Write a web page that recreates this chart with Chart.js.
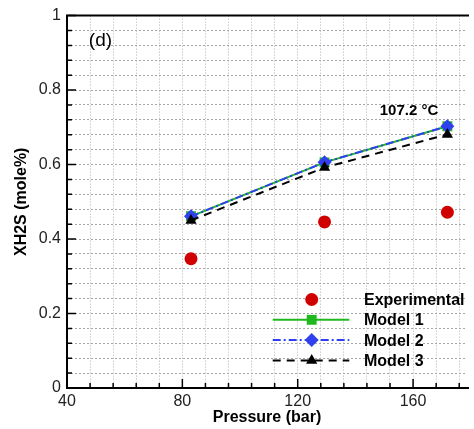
<!DOCTYPE html>
<html>
<head>
<meta charset="utf-8">
<script src="https://cdn.jsdelivr.net/npm/chart.js@4.4.0/dist/chart.umd.min.js"></script>
<style>
  html, body { margin: 0; padding: 0; background: #fff; overflow: hidden; }
  #wrap { width: 474px; height: 429px; position: relative; }
</style>
</head>
<body>
<div id="wrap"><canvas id="xh2s"></canvas></div>
<script>
// pressure (bar) and H2S mole fraction at 107.2 °C
var pressure     = [83.0, 129.3, 171.9];
var experimental = [0.347, 0.446, 0.472];
var model1       = [0.461, 0.606, 0.703];
var model2       = [0.461, 0.606, 0.703];
var model3       = [0.450, 0.592, 0.681];
var seriesNames  = ['Experimental', 'Model 1', 'Model 2', 'Model 3'];

var xTickLabels = [40, 80, 120, 160];
var yTickLabels = [0, 0.2, 0.4, 0.6, 0.8, 1];

var panelLabel = { text: '(d)', x: 51.6, y: 0.933 };
var tempLabel  = { text: '107.2 °C', x: 158.6, y: 0.744 };

var FONT = "'Liberation Sans', Arial, sans-serif";

function toPoints(ys) {
    return pressure.map(function (p, i) { return { x: p, y: ys[i] }; });
}

var styles = [
    { color: '#d10000', style: 'circle',   radius: 6.5, dash: [],           line: false },
    { color: '#1fb81f', style: 'rect',     radius: 7,   dash: [],           line: true },
    { color: '#3040ee', style: 'rectRot',  radius: 7,   dash: [8, 3, 2, 3], line: true },
    { color: '#000000', style: 'triangle', radius: 6.5, dash: [8, 6],       line: true }
];
var values = [experimental, model1, model2, model3];

var datasets = values.map(function (v, i) {
    var s = styles[i];
    return {
        label: seriesNames[i],
        data: toPoints(v),
        showLine: s.line,
        borderColor: s.color,
        backgroundColor: s.color,
        borderWidth: 2,
        borderDash: s.dash,
        pointStyle: s.style,
        pointRadius: s.radius,
        pointBorderWidth: 0,
        pointBackgroundColor: s.color,
        order: i === 0 ? 0 : 5 - i
    };
});

// axes frame, inward ticks, legend box and text labels
var decorations = {
    id: 'decorations',
    afterDraw: function (chart) {
        var ctx = chart.ctx, a = chart.chartArea;
        var xs = chart.scales.x, ys = chart.scales.y;
        ctx.save();
        ctx.strokeStyle = '#000';
        ctx.lineWidth = 2;
        ctx.beginPath();
        ctx.moveTo(a.right + 2, a.top);
        ctx.lineTo(a.left, a.top);
        ctx.lineTo(a.left, a.bottom);
        ctx.lineTo(a.right + 2, a.bottom);
        ctx.stroke();

        ctx.lineWidth = 1.5;
        ctx.beginPath();
        xs.ticks.forEach(function (t) {
            var px = xs.getPixelForValue(t.value);
            var len = xTickLabels.indexOf(t.value) >= 0 ? 9 : 5;
            ctx.moveTo(px, a.bottom);
            ctx.lineTo(px, a.bottom - len);
        });
        ys.ticks.forEach(function (t, i) {
            var py = ys.getPixelForValue(t.value);
            var len = i % 5 === 0 ? 9 : 5;
            ctx.moveTo(a.left, py);
            ctx.lineTo(a.left + len, py);
        });
        ctx.stroke();

        // legend
        var mx = 311.7, x0 = 272.7, x1 = 349.3, tx = 364, top = 299.5, gap = 20.3;
        ctx.textBaseline = 'middle';
        ctx.textAlign = 'left';
        ctx.font = 'bold 16px ' + FONT;
        styles.forEach(function (s, i) {
            var y = top + gap * i;
            if (s.line) {
                ctx.save();
                ctx.strokeStyle = s.color;
                ctx.lineWidth = 2;
                ctx.setLineDash(s.dash);
                ctx.beginPath();
                ctx.moveTo(x0, y);
                ctx.lineTo(x1, y);
                ctx.stroke();
                ctx.restore();
            }
            ctx.fillStyle = s.color;
            ctx.strokeStyle = s.color;
            Chart.helpers.drawPoint(ctx, { pointStyle: s.style, radius: s.radius, rotation: 0, borderWidth: 0 }, mx, y);
            ctx.fillStyle = '#000';
            ctx.fillText(seriesNames[i], tx, y + 1);
        });

        ctx.textAlign = 'center';
        ctx.fillStyle = '#000';
        ctx.font = '19px ' + FONT;
        ctx.fillText(panelLabel.text, xs.getPixelForValue(panelLabel.x), ys.getPixelForValue(panelLabel.y));
        ctx.font = 'bold 15px ' + FONT;
        ctx.fillText(tempLabel.text, xs.getPixelForValue(tempLabel.x), ys.getPixelForValue(tempLabel.y));
        ctx.restore();
    }
};

new Chart(document.getElementById('xh2s'), {
    type: 'scatter',
    data: { datasets: datasets },
    plugins: [decorations],
    options: {
        responsive: true,
        maintainAspectRatio: false,
        animation: false,
        layout: { padding: { top: 13, left: 0, right: 0, bottom: 0 } },
        plugins: { legend: { display: false }, tooltip: { enabled: false } },
        scales: {
            x: {
                type: 'linear',
                min: 40,
                max: 178.7,
                afterFit: function (s) { s.height = 41; },
                afterBuildTicks: function (s) {
                    var t = [];
                    for (var v = 40; v <= 176; v += 8) t.push({ value: v });
                    s.ticks = t;
                },
                grid: { color: '#b0b0b0', lineWidth: 1, drawTicks: false },
                border: { display: false, dash: [1, 2] },
                ticks: {
                    autoSkip: false,
                    maxRotation: 0,
                    padding: 4,
                    color: '#222',
                    font: { family: FONT, size: 16 },
                    callback: function (v) { return xTickLabels.indexOf(v) >= 0 ? String(v) : ''; }
                },
                title: {
                    display: true,
                    text: 'Pressure (bar)',
                    color: '#000',
                    font: { family: FONT, size: 16, weight: 'bold' },
                    padding: { top: 0, bottom: 2 }
                }
            },
            y: {
                min: 0,
                max: 1,
                afterFit: function (s) { s.width = 67; },
                afterBuildTicks: function (s) {
                    var t = [];
                    for (var i = 0; i <= 25; i++) t.push({ value: Math.round(i * 4) / 100 });
                    s.ticks = t;
                },
                grid: { color: '#a6a6a6', lineWidth: 1, drawTicks: false },
                border: { display: false, dash: [2, 2] },
                ticks: {
                    autoSkip: false,
                    padding: 6,
                    color: '#222',
                    font: { family: FONT, size: 16 },
                    callback: function (v, i) { return i % 5 === 0 ? String(yTickLabels[i / 5]) : ''; }
                },
                title: {
                    display: true,
                    text: 'XH2S (mole%)',
                    color: '#000',
                    font: { family: FONT, size: 16, weight: 'bold' },
                    padding: { top: 12, bottom: 0 }
                }
            }
        }
    }
});
</script>
</body>
</html>
